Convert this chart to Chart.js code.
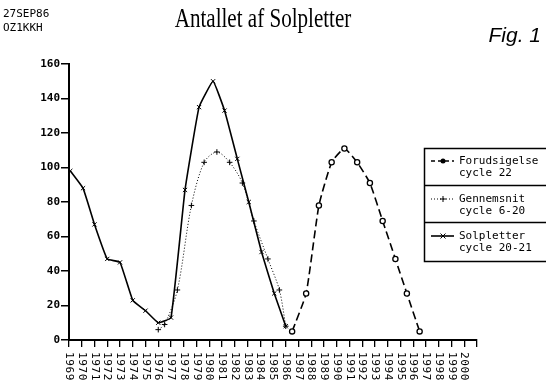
<!DOCTYPE html>
<html>
<head>
<meta charset="utf-8">
<script src="https://cdn.jsdelivr.net/npm/chart.js@4"></script>
<style>
  body { margin: 0; background: #fff; }
  #wrap { position: relative; width: 546px; height: 380px; overflow: hidden; }
  .txt { position: absolute; color: #000; white-space: nowrap; }
  #stamp { left: 3px; top: 7px; font: 11px "DejaVu Sans Mono", monospace; line-height: 14px; }
  #title { left: 263px; top: 3px; font: 27px "Liberation Serif", serif; transform: translateX(-50%) scaleX(0.78); }
  #fig { right: 5px; top: 23px; font: italic 21px "Liberation Sans", Arial, sans-serif; }
</style>
</head>
<body>
<div id="wrap">
  <canvas id="chart" width="546" height="380"></canvas>
  <div class="txt" id="stamp">27SEP86<br>OZ1KKH</div>
  <div class="txt" id="title">Antallet af Solpletter</div>
  <div class="txt" id="fig">Fig. 1</div>
</div>
<script>
// aksedata
const yTicks = [0, 20, 40, 60, 80, 100, 120, 140, 160];
const yearLabels = ['1969', '1970', '1971', '1972', '1973', '1974', '1975', '1976', '1977', '1978',
    '1979', '1980', '1981', '1982', '1983', '1984', '1985', '1986', '1987', '1988', '1989', '1990',
    '1991', '1992', '1993', '1994', '1995', '1996', '1997', '1998', '1999', '2000'];
const xMin = 1969, xMax = 2001;

// Solpletter cycle 20-21
const solYears = [1969.1, 1970.1, 1971, 1972, 1973, 1974, 1975, 1976, 1977, 1978.1,
    1979.2, 1980.3, 1981.2, 1982.2, 1983.1, 1984.1, 1985.1, 1986];
const solValues = [98, 88, 67, 47, 45, 23, 17, 10, 13, 87, 135, 150, 133, 105, 80, 51, 27, 8];

// Gennemsnit cycle 6-20
const avgYears = [1976, 1976.5, 1977.5, 1978.6, 1979.6, 1980.6, 1981.6, 1982.6, 1983.5, 1984.6, 1985.5, 1986];
const avgValues = [6, 9, 29, 78, 103, 109, 103, 91, 69, 47, 29, 8];

// Forudsigelse cycle 22
const predYears = [1986.5, 1987.6, 1988.6, 1989.6, 1990.6, 1991.6, 1992.6, 1993.6, 1994.6, 1995.5, 1996.5];
const predValues = [5, 27, 78, 103, 111, 103, 91, 69, 47, 27, 5];

const legendItems = [
    { line1: 'Forudsigelse', line2: 'cycle 22' },
    { line1: 'Gennemsnit', line2: 'cycle 6-20' },
    { line1: 'Solpletter', line2: 'cycle 20-21' }
];

const toPoints = (xs, ys) => xs.map((x, i) => ({ x: x, y: ys[i] }));
const monoFont = '11px "DejaVu Sans Mono", monospace';

// tegn årstal lodret (læses oppefra og ned) + legende-boks
const extras = {
    id: 'extras',
    afterDraw(chart) {
        const ctx = chart.ctx;
        const xs = chart.scales.x;
        ctx.save();
        ctx.fillStyle = '#000';
        ctx.font = monoFont;
        ctx.letterSpacing = '0.6px';
        ctx.textAlign = 'left';
        ctx.textBaseline = 'middle';
        yearLabels.forEach(lbl => {
            const px = xs.getPixelForValue(Number(lbl));
            ctx.save();
            ctx.translate(px, 352);
            ctx.rotate(Math.PI / 2);
            ctx.fillText(lbl, 0, 0);
            ctx.restore();
        });
        ctx.restore();

        // legende
        ctx.save();
        ctx.strokeStyle = '#000';
        ctx.lineWidth = 1.5;
        ctx.strokeRect(424.5, 148.5, 140, 113);
        ctx.beginPath();
        ctx.moveTo(424.5, 185.5); ctx.lineTo(546, 185.5);
        ctx.moveTo(424.5, 222.5); ctx.lineTo(546, 222.5);
        ctx.stroke();
        ctx.font = monoFont;
        ctx.fillStyle = '#000';
        ctx.textBaseline = 'middle';
        const rows = [161, 199, 236];
        legendItems.forEach((item, i) => {
            const y = rows[i];
            ctx.fillText(item.line1, 459, y);
            ctx.fillText(item.line2, 459, y + 12);
            const ds = chart.data.datasets[i];
            ctx.save();
            ctx.lineWidth = ds.borderWidth;
            ctx.setLineDash(i === 0 ? [4, 3] : (ds.borderDash || []));
            ctx.beginPath();
            ctx.moveTo(431, y); ctx.lineTo(454, y);
            ctx.stroke();
            ctx.restore();
            ctx.save();
            ctx.lineWidth = 1;
            const mx = 443;
            ctx.beginPath();
            if (i === 0) {
                ctx.fillStyle = '#000';
                ctx.arc(mx, y, 2.5, 0, Math.PI * 2);
                ctx.fill();
            } else if (i === 1) {
                ctx.moveTo(mx - 3, y); ctx.lineTo(mx + 3, y);
                ctx.moveTo(mx, y - 3); ctx.lineTo(mx, y + 3);
                ctx.stroke();
            } else {
                ctx.moveTo(mx - 2.5, y - 2.5); ctx.lineTo(mx + 2.5, y + 2.5);
                ctx.moveTo(mx + 2.5, y - 2.5); ctx.lineTo(mx - 2.5, y + 2.5);
                ctx.stroke();
            }
            ctx.restore();
        });
        ctx.restore();
    }
};

new Chart(document.getElementById('chart'), {
    type: 'line',
    data: {
        datasets: [
            {
                label: 'Forudsigelse cycle 22',
                data: toPoints(predYears, predValues),
                borderColor: '#000',
                borderWidth: 1.6,
                borderDash: [8, 4],
                pointStyle: 'circle',
                pointRadius: 2.6,
                pointBorderWidth: 1.3,
                pointBackgroundColor: '#fff',
                pointBorderColor: '#000',
                tension: 0.15,
                clip: false
            },
            {
                label: 'Gennemsnit cycle 6-20',
                data: toPoints(avgYears, avgValues),
                borderColor: '#000',
                borderWidth: 1,
                borderDash: [1, 2],
                pointStyle: 'cross',
                pointRadius: 2.8,
                pointBorderWidth: 1,
                pointBorderColor: '#000',
                tension: 0.3,
                clip: false
            },
            {
                label: 'Solpletter cycle 20-21',
                data: toPoints(solYears, solValues),
                borderColor: '#000',
                borderWidth: 1.6,
                pointStyle: 'crossRot',
                pointRadius: 3,
                pointBorderWidth: 1,
                pointBorderColor: '#000',
                tension: 0.1,
                clip: false
            }
        ]
    },
    options: {
        responsive: false,
        animation: false,
        devicePixelRatio: 1,
        layout: { padding: { top: 64, right: 69, left: 0, bottom: 0 } },
        plugins: { legend: { display: false }, tooltip: { enabled: false } },
        scales: {
            x: {
                type: 'linear',
                min: xMin,
                max: xMax,
                afterBuildTicks: s => {
                    const t = [];
                    for (let v = xMin; v <= xMax; v++) t.push({ value: v });
                    s.ticks = t;
                },
                ticks: { display: false, autoSkip: false },
                grid: { drawOnChartArea: false, drawTicks: true, tickLength: 7, color: '#000', lineWidth: 1.3 },
                border: { color: '#000', width: 2 },
                afterFit: s => { s.height = 40; }
            },
            y: {
                min: 0,
                max: 160,
                afterBuildTicks: s => { s.ticks = yTicks.map(v => ({ value: v })); },
                ticks: {
                    color: '#000',
                    padding: 1,
                    font: { family: 'DejaVu Sans Mono', size: 11, weight: 'bold' }
                },
                grid: { drawOnChartArea: false, drawTicks: true, tickLength: 8, color: '#000', lineWidth: 1.5 },
                border: { color: '#000', width: 2 },
                afterFit: s => { s.width = 69; }
            }
        }
    },
    plugins: [extras]
});
</script>
</body>
</html>
